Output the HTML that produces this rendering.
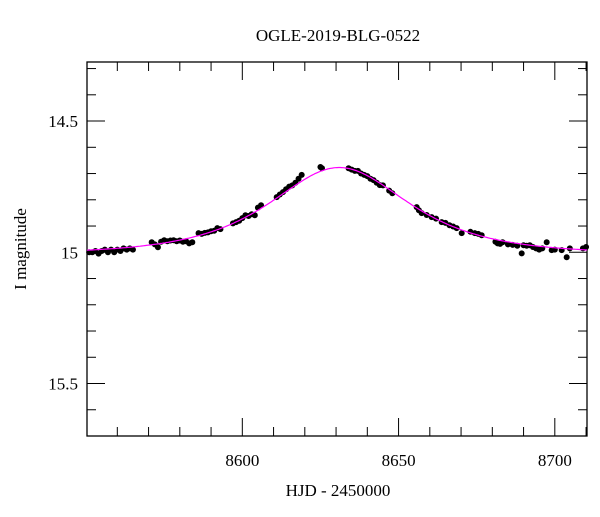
<!DOCTYPE html>
<html><head><meta charset="utf-8"><style>
body{margin:0;background:#fff;width:600px;height:512px;overflow:hidden}
text{font-family:"Liberation Serif",serif;fill:#000}
</style></head><body>
<svg id="chart" width="600" height="512">
<text x="338" y="41" font-size="17" text-anchor="middle">OGLE-2019-BLG-0522</text>
<text x="338" y="496" font-size="17" text-anchor="middle">HJD - 2450000</text>
<text transform="translate(26,249) rotate(-90)" font-size="17" text-anchor="middle">I magnitude</text>
<g id="axes"></g>
<g id="marks"></g>
</svg>
<script>
const times=[8551,8552,8553,8554,8555,8556,8557,8558,8559,8560,8561,8562,8563,8564,8565,
8571,8572,8573,8574,8575,8576,8577,8578,8579,8580,8581,8582,8583,8584,
8586,8587,8588,8589,8590,8591,8592,8593,
8597,8598,8599,8600,8601,8602,8603,8604,8605,8606,
8611,8612,8613,8614,8615,8616,8617,8618,8619,
8625,8625.5,
8634,8635,8636,8637,8638,8639,8640,8641,8642,8643,8644,8645,8647,8648,
8655.8,8656.5,8657.4,8659,8660.6,8662,8663.8,8665,8666.3,8667.5,8668.6,8670.2,8673,8674.4,8675.5,8676.6,
8681,8681.7,8682.5,8683.3,8685,8686.5,8688,8689.4,8690,8691,8692,8693,8694,8695,8696,8697.4,8699,8700,8702.2,8703.8,8704.8,8709,8710];
const mags=[15.0,15.0,14.995,15.005,14.995,14.99,15.0,14.99,15.0,14.99,14.995,14.985,14.99,14.985,14.99,
14.962,14.97,14.981,14.96,14.954,14.958,14.955,14.954,14.958,14.955,14.96,14.958,14.966,14.962,
14.927,14.93,14.926,14.924,14.92,14.918,14.908,14.912,
14.89,14.885,14.88,14.87,14.859,14.862,14.855,14.859,14.83,14.821,
14.79,14.78,14.771,14.76,14.75,14.745,14.735,14.72,14.705,
14.675,14.68,
14.68,14.685,14.69,14.69,14.70,14.705,14.71,14.72,14.725,14.735,14.744,14.745,14.765,14.775,
14.828,14.84,14.851,14.858,14.866,14.872,14.885,14.888,14.897,14.902,14.908,14.927,14.922,14.927,14.93,14.935,
14.96,14.966,14.968,14.962,14.97,14.972,14.975,15.004,14.973,14.975,14.973,14.98,14.985,14.99,14.985,14.962,14.992,14.99,14.992,15.019,14.985,14.985,14.98];
const xTicks=[8600,8650,8700];
const yTicks=[14.5,15,15.5];
const yTickLabels=["14.5","15","15.5"];
const model={t0:8631,tE:27.2,u0:0.98,base:15.008};

const L=87,R=587,T=62,B=436;
const X0=8550.3,X1=8710.3,Y0=14.275,Y1=15.70;
const sx=t=>L+(t-X0)/(X1-X0)*(R-L);
const sy=m=>T+(m-Y0)/(Y1-Y0)*(B-T);
const NS='http://www.w3.org/2000/svg';
const axes=document.getElementById('axes'),marks=document.getElementById('marks');
function mk(tag,attrs,parent){const e=document.createElementNS(NS,tag);for(const k in attrs)e.setAttribute(k,attrs[k]);parent.appendChild(e);return e;}

const frame=mk('rect',{x:L,y:T,width:R-L,height:B-T,fill:'none',stroke:'#000','stroke-width':1.3},axes);



for(let t=8560;t<=8710;t+=10){
  const maj=xTicks.includes(t);const len=maj?18:9;const x=sx(t);
  const a=mk('line',{x1:x,x2:x,y1:B,y2:B-len,stroke:'#000'},axes);
  
  
  const b=mk('line',{x1:x,x2:x,y1:T,y2:T+len,stroke:'#000'},axes);
  
  
}
xTicks.forEach(t=>{
  const tx=mk('text',{x:sx(t),y:B+30,'font-size':17,'text-anchor':'middle'},axes);tx.textContent=t;
  
  
});
for(let i=3;i<=16;i++){
  const m=14+i*0.1;const y=sy(m);if(y<T||y>B)continue;
  const maj=Math.abs(m*2-Math.round(m*2))<1e-6;const len=maj?18:9;
  const a=mk('line',{x1:L,x2:L+len,y1:y,y2:y,stroke:'#000'},axes);
  
  
  const b=mk('line',{x1:R,x2:R-len,y1:y,y2:y,stroke:'#000'},axes);
  
  
}
yTicks.forEach((m,i)=>{
  const tx=mk('text',{x:L-9,y:sy(m)+6,'font-size':17,'text-anchor':'end'},axes);tx.textContent=yTickLabels[i];
  
  
});
times.forEach((t,i)=>{
  const c=mk('circle',{cx:sx(t),cy:sy(mags[i]),r:3,fill:'#000'},marks);
  
  
});
let d='';
for(let t=X0;t<=X1;t+=0.5){
  const tau=(t-model.t0)/model.tE;const u=Math.sqrt(model.u0*model.u0+tau*tau);
  const A=(u*u+2)/(u*Math.sqrt(u*u+4));const m=model.base-2.5*Math.log10(A);
  d+=(d?'L':'M')+sx(t).toFixed(1)+','+sy(m).toFixed(1);
}
const p=mk('path',{d:d,fill:'none',stroke:'#ff00ff','stroke-width':1.2},marks);


</script>
</body></html>
